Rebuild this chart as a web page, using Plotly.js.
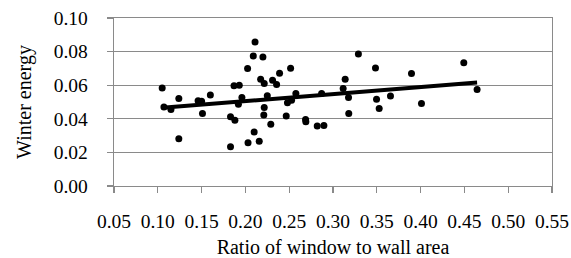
<!DOCTYPE html>
<html><head><meta charset="utf-8">
<script src="https://cdn.plot.ly/plotly-3.0.1.min.js"></script>
<style>body{margin:0;background:#fff}#c{width:571px;height:258px}</style>
</head><body><div id="c"></div>
<script>
const ratioWindowWall = [0.105,0.107,0.115,0.124,0.124,0.146,0.150,0.151,0.160,0.183,0.188,0.183,0.187,0.193,0.196,0.192,0.2025,0.209,0.211,0.203,0.210,0.220,0.2174,0.2215,0.225,0.2215,0.221,0.229,0.2158,0.231,0.2356,0.239,0.2516,0.2466,0.248,0.2527,0.2576,0.2687,0.269,0.282,0.2896,0.287,0.3116,0.3139,0.3177,0.318,0.329,0.3485,0.3497,0.3527,0.3656,0.3896,0.401,0.4493,0.4645];
const winterEnergy = [0.0584,0.0470,0.0456,0.0521,0.0281,0.0507,0.0505,0.0432,0.0541,0.0412,0.0392,0.0234,0.0596,0.0600,0.0527,0.0487,0.0699,0.0774,0.0857,0.0257,0.0322,0.0768,0.0636,0.0610,0.0537,0.0468,0.0422,0.0367,0.0266,0.0630,0.0604,0.0671,0.0701,0.0416,0.0495,0.0511,0.0551,0.0396,0.0382,0.0357,0.0360,0.0551,0.0580,0.0636,0.0527,0.0432,0.0786,0.0703,0.0517,0.0462,0.0535,0.0670,0.0491,0.0733,0.0575];
const xTickVals = [0.05,0.10,0.15,0.20,0.25,0.30,0.35,0.40,0.45,0.50,0.55];
const yTickVals = [0.00,0.02,0.04,0.06,0.08,0.10];

// least-squares linear trendline
const n = ratioWindowWall.length;
const mx = ratioWindowWall.reduce((a,b)=>a+b,0)/n;
const my = winterEnergy.reduce((a,b)=>a+b,0)/n;
let sxy=0, sxx=0;
for(let i=0;i<n;i++){sxy+=(ratioWindowWall[i]-mx)*(winterEnergy[i]-my);sxx+=(ratioWindowWall[i]-mx)**2;}
const slope = sxy/sxx, icpt = my - slope*mx;
const xmin = Math.min(...ratioWindowWall), xmax = Math.max(...ratioWindowWall);
const trendX = [xmin, xmax];
const trendY = trendX.map(x=>icpt+slope*x);

const font = {family:'"Liberation Serif", "Times New Roman", serif', size:20, color:'#000'};
const tickFont = {family:'"Liberation Serif", "Times New Roman", serif', size:19.5, color:'#000'};
const grid = '#8a8a8a';
Plotly.newPlot('c', [
  {x: ratioWindowWall, y: winterEnergy, type:'scatter', mode:'markers',
   marker:{color:'#000', size:7}, hoverinfo:'skip'},
  {x: trendX, y: trendY, type:'scatter', mode:'lines',
   line:{color:'#000', width:4}, hoverinfo:'skip'}
], {
  width:571, height:258,
  margin:{l:114, r:19, t:18, b:72},
  paper_bgcolor:'#fff', plot_bgcolor:'#fff',
  showlegend:false,
  font: font,
  xaxis:{range:[0.05,0.55], tickvals:xTickVals, tickformat:'.2f', tickfont:tickFont,
    showgrid:false, zeroline:false, showline:true, linecolor:grid, linewidth:1.3,
    ticks:'outside', ticklen:6, tickcolor:grid, tickwidth:1.3, ticklabelstandoff:11,
    mirror:true,
    title:{text:'Ratio of window to wall area', font:font, standoff:9}},
  yaxis:{range:[0,0.10], tickvals:yTickVals, tickformat:'.2f', tickfont:tickFont,
    showgrid:true, gridcolor:grid, gridwidth:1.3, zeroline:false,
    showline:true, linecolor:grid, linewidth:1.3, mirror:true,
    ticks:'outside', ticklen:6, tickcolor:grid, tickwidth:1.3, ticklabelstandoff:15,
    title:{text:'Winter energy', font:font, standoff:16}}
}, {staticPlot:true});
</script></body></html>
